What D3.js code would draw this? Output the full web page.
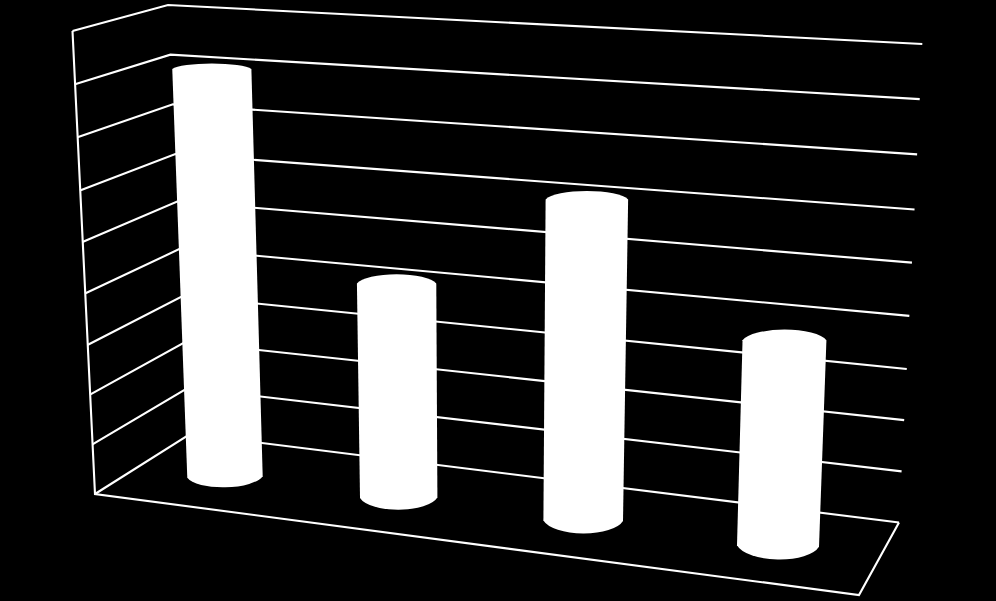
<!DOCTYPE html>
<html>
<head>
<meta charset="utf-8">
<style>
html,body{margin:0;padding:0;background:#000;overflow:hidden}
svg{display:block}
</style>
<script src="https://cdn.jsdelivr.net/npm/d3@7"></script>
</head>
<body>
<svg id="chart" width="996" height="601"></svg>
<script>
// Data (no axis text is shown; units = gridline steps)
const categories = ["A", "B", "C", "D"];
const values = [8.24, 4.2, 6.12, 3.81];
const gridLevels = [0, 1, 2, 3, 4, 5, 6, 7, 8, 9];

const svg = d3.select("#chart");
svg.append("rect").attr("width", 996).attr("height", 601).attr("fill", "#000");

// Projection of the 3D frame: level -> screen position on the three wall edges
const stops = [0, 3, 6, 9];
const frontX = d3.scaleLinear().domain([0, 9]).range([95, 72.5]);
const frontY = d3.scaleLinear().domain(stops).range([494, 345, 190.5, 31]);
const cornerX = d3.scaleLinear().domain([0, 9]).range([190, 168]);
const cornerY = d3.scaleLinear().domain(stops).range([434, 296, 154, 5]);
const rightX = d3.scaleLinear().domain([0, 9]).range([899, 922.3]);
const rightY = d3.scaleLinear().domain(stops).range([522.5, 369, 209.5, 44]);

const line = d3.line();
const frame = svg.append("g")
  .attr("fill", "none").attr("stroke", "#fff")
  .attr("stroke-width", 2.1).attr("stroke-linejoin", "miter");

frame.selectAll("path.grid").data(gridLevels).join("path")
  .attr("class", "grid")
  .attr("d", v => line([
    [frontX(v), frontY(v)],
    [cornerX(v), cornerY(v)],
    [rightX(v), rightY(v)]
  ]));

// Left front post and floor outline
frame.append("path").attr("d", line([
  [frontX(9), frontY(9)], [frontX(0), frontY(0)], [859, 595], [rightX(0), rightY(0)]
]));

// Cylinders: category -> floor position and local size
const baseX = d3.scaleOrdinal().domain(categories).range([225, 398.7, 583.2, 778]);
const baseY = d3.scaleOrdinal().domain(categories).range([477, 497.7, 520.7, 546]);
const baseRx = d3.scaleOrdinal().domain(categories).range([37.7, 38.7, 39.8, 41]);
const baseRy = d3.scaleOrdinal().domain(categories).range([10.3, 12, 12.7, 13.5]);
const unit = d3.scaleLinear().domain([0, 3]).range([49.5, 54]);
const lean = d3.scaleLinear().domain([0, 3]).range([-1.6, 1.7]);
const tilt = d3.scaleLinear().domain([0, 3]).range([-0.85, 0.85]);

// Cap arcs are slightly flatter than a half ellipse, leaving a soft corner at the sides
const widen = 1.03;
const deepen = 1 / (1 - Math.sqrt(1 - 1 / (widen * widen)));

const cyl = d => {
  const i = categories.indexOf(d.c), v = d.v;
  const bx = baseX(d.c), by = baseY(d.c), brx = baseRx(d.c), bry = baseRy(d.c);
  const tx = bx + lean(i) * v, ty = by - unit(i) * v;
  const trx = brx * (1 + 0.006 * v), try_ = bry * (1 - 0.055 * v);
  const t = tilt(i), rot = Math.atan2(t, brx) * 180 / Math.PI;
  return `M${tx - trx},${ty}A${trx * widen},${try_ * deepen} 0 0 1 ${tx + trx},${ty}` +
         `L${bx + brx},${by + t}A${brx * widen},${bry * deepen} ${rot} 0 1 ${bx - brx},${by - t}Z`;
};

svg.append("g").selectAll("path")
  .data(categories.map((c, i) => ({c, v: values[i]})))
  .join("path")
  .attr("d", cyl)
  .attr("fill", "#fff");
</script>
</body>
</html>
